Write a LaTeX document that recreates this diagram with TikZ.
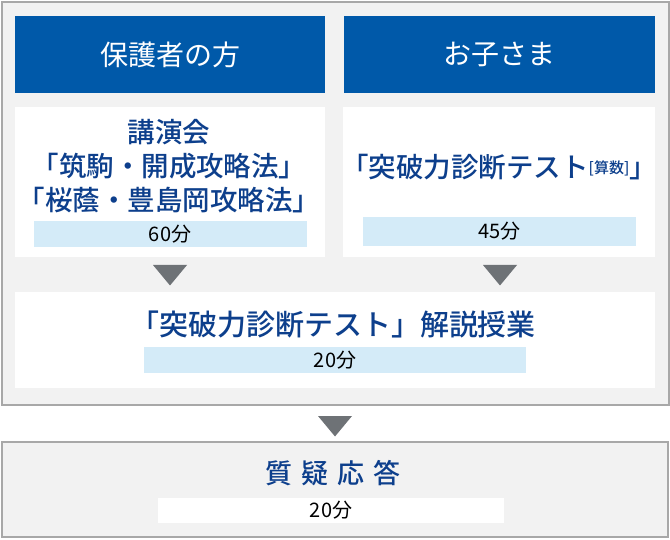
\documentclass[tikz,border=0pt]{standalone}
\usepackage{fontspec}
\usepackage{xcolor}
\newfontfamily\jpfont{Noto Sans CJK JP}
\newfontfamily\jpmedium{Noto Sans CJK JP}[UprightFont={* Medium}]

\definecolor{headblue}{HTML}{0059A9}
\definecolor{textblue}{HTML}{0D3F8C}
\definecolor{barblue}{HTML}{D4EBF8}
\definecolor{panelgray}{HTML}{F2F2F2}
\definecolor{framegray}{HTML}{A8A8A8}
\definecolor{arrowgray}{HTML}{6E7276}

\tikzset{
	panel/.style = {draw=framegray, line width=2pt, fill=panelgray, inner sep=0pt},
	headbox/.style = {fill=headblue, text=white, inner sep=0pt, minimum height=77pt,
		font=\jpfont\fontsize{28}{28}\selectfont},
	whitebox/.style = {fill=white, inner sep=0pt},
	title/.style = {text=textblue, align=center, inner sep=0pt,
		font=\jpmedium\fontsize{27.5}{34}\selectfont},
	timebar/.style = {fill=barblue, inner sep=0pt, minimum height=26pt,
		font=\jpfont\fontsize{20}{20}\selectfont},
	downtri/.style = {fill=arrowgray}
}

\begin{document}
\begin{tikzpicture}[x=1pt, y=-1pt]
	\useasboundingbox (0,0) rectangle (670,540);
	\begin{scope}[every node/.style = {panel}]
		\node[minimum width=667pt, minimum height=402.5pt] (upper) at (335,203.75) {};
		\node[minimum width=666.5pt, minimum height=95pt] (lower) at (334.75,489.5) {};
	\end{scope}

	\node[headbox, minimum width=310pt] (parents) at (170,54.5) {保護者の方};
	\node[headbox, minimum width=311pt] (kids) at (499.5,54.5) {お子さま};

	\begin{scope}[every node/.style = {whitebox}]
		\node[minimum width=310pt, minimum height=150pt] (lecture) at (170,182) {};
		\node[minimum width=312pt, minimum height=150pt] (test) at (499,182) {};
		\node[minimum width=640pt, minimum height=96pt] (review) at (335,340) {};
	\end{scope}

	\node[title] (lecturetext) at (169,166) {講演会\\「筑駒・開成攻略法」\\「桜蔭・豊島岡攻略法」};
	\node[title] (testtext) at (499,167) {「突破力診断テスト\raisebox{4pt}{\fontsize{15}{15}\selectfont [算数]}」};
	\node[title, font=\jpmedium\fontsize{29}{29}\selectfont] (reviewtext) at (333,325) {「突破力診断テスト」解説授業};
	\node[title, font=\jpmedium\fontsize{27}{27}\selectfont] (qatext) at (333,473)
		{質\hspace{9pt}疑\hspace{9pt}応\hspace{9pt}答};

	\node[timebar, minimum width=273pt] (lecturetime) at (170,234) {60分};
	\node[timebar, minimum width=273pt, minimum height=29pt] (testtime) at (499.5,231.5) {45分};
	\node[timebar, minimum width=382pt] (reviewtime) at (335,360) {20分};
	\node[timebar, fill=white, minimum width=346pt, minimum height=25pt] (qatime) at (331,510.5) {20分};

	\coordinate (down1) at (170,265);
	\coordinate (down2) at (500,265);
	\coordinate (down3) at (335,416);
	\foreach \t in {down1, down2, down3}
		\fill[downtri] (\t) ++(-17,0) -- ++(34,0) -- ++(-17,20.5) -- cycle;
\end{tikzpicture}
\end{document}
